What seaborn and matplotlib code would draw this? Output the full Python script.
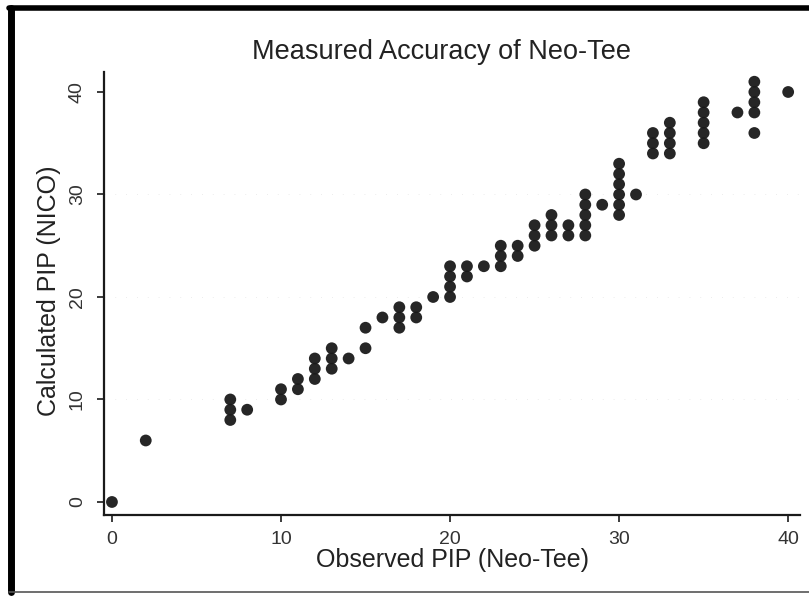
import matplotlib
matplotlib.use("Agg")
import matplotlib.pyplot as plt
from matplotlib.lines import Line2D
import seaborn as sns
import pandas as pd

# ---- data ----
observed = [0, 2, 7, 7, 7, 8, 10, 10, 11, 11, 12, 12, 12, 13, 13, 13, 14, 15, 15, 16,
            17, 17, 17, 18, 18, 19, 20, 20, 20, 20, 21, 21, 22, 23, 23, 23, 24, 24,
            25, 25, 25, 26, 26, 26, 27, 27, 28, 28, 28, 28, 28, 29,
            30, 30, 30, 30, 30, 30, 31, 32, 32, 32, 33, 33, 33, 33,
            35, 35, 35, 35, 35, 37, 38, 38, 38, 38, 38, 40]
calculated = [0, 6, 10, 9, 8, 9, 11, 10, 12, 11, 14, 13, 12, 15, 14, 13, 14, 17, 15, 18,
              19, 18, 17, 19, 18, 20, 23, 22, 21, 20, 23, 22, 23, 25, 24, 23, 25, 24,
              27, 26, 25, 28, 27, 26, 27, 26, 30, 29, 28, 27, 26, 29,
              33, 32, 31, 30, 29, 28, 30, 36, 35, 34, 37, 36, 35, 34,
              39, 38, 37, 36, 35, 38, 41, 40, 39, 38, 36, 40]
x_ticks = [0, 10, 20, 30, 40]
y_ticks = [0, 10, 20, 30, 40]
title = "Measured Accuracy of Neo-Tee"
x_label = "Observed PIP (Neo-Tee)"
y_label = "Calculated PIP (NICO)"

df = pd.DataFrame({"observed": observed, "calculated": calculated})

sns.set_theme(style="white")
plt.rcParams["font.family"] = ["Liberation Sans", "DejaVu Sans"]

ink = "#1a1a1a"
txt = "#222222"
fig = plt.figure(figsize=(8.09, 5.98), dpi=100)
ax = fig.add_axes([104 / 809, 1 - 515 / 598, (800 - 104) / 809, (515 - 72) / 598])

sns.scatterplot(data=df, x="observed", y="calculated", ax=ax, s=72,
                color=ink, edgecolor="none", linewidth=0, alpha=0.95)

ax.set_xlim(-0.47, 40.7)
ax.set_ylim(-1.27, 41.95)
ax.set_xticks(x_ticks)
ax.set_yticks(y_ticks)
ax.set_xticklabels([str(t) for t in x_ticks], fontsize=14, color="#333333")
ax.set_yticklabels([str(t) for t in y_ticks], fontsize=14, color="#333333",
                   rotation=90, va="center")
ax.tick_params(axis="x", direction="out", length=5, width=1.2, color=ink,
               bottom=True, pad=6.5)
ax.tick_params(axis="y", direction="out", length=5, width=1.2, color=ink,
               left=True, pad=8)

# faint horizontal grid
for gy in [10, 20, 30]:
    ax.axhline(gy, color="#e6e6e6", lw=0.6, ls=(0, (1, 12)), zorder=0)

for side in ["top", "right"]:
    ax.spines[side].set_visible(False)
for side in ["left", "bottom"]:
    ax.spines[side].set_color(ink)
    ax.spines[side].set_linewidth(1.6)

ax.set_xlabel(x_label, fontsize=18, color=txt, labelpad=0)
ax.set_ylabel(y_label, fontsize=18, color=txt)
ax.yaxis.set_label_coords(-0.062, 0.506)

fig.text(441 / 809, 1 - 52 / 598, title, ha="center", va="center",
         fontsize=19.5, color=txt)

# scanned frame edges
fig.add_artist(Line2D([11 / 809, 11 / 809], [1 - 8 / 598, 1 - 592 / 598],
                      transform=fig.transFigure, color="black", lw=5))
fig.add_artist(Line2D([9 / 809, 1.0], [1 - 8 / 598, 1 - 8 / 598],
                      transform=fig.transFigure, color="black", lw=4))
fig.add_artist(Line2D([9 / 809, 1.0], [1 - 592 / 598, 1 - 592 / 598],
                      transform=fig.transFigure, color="#555555", lw=1.2))

fig.savefig("out.png", dpi=100, facecolor="white")
